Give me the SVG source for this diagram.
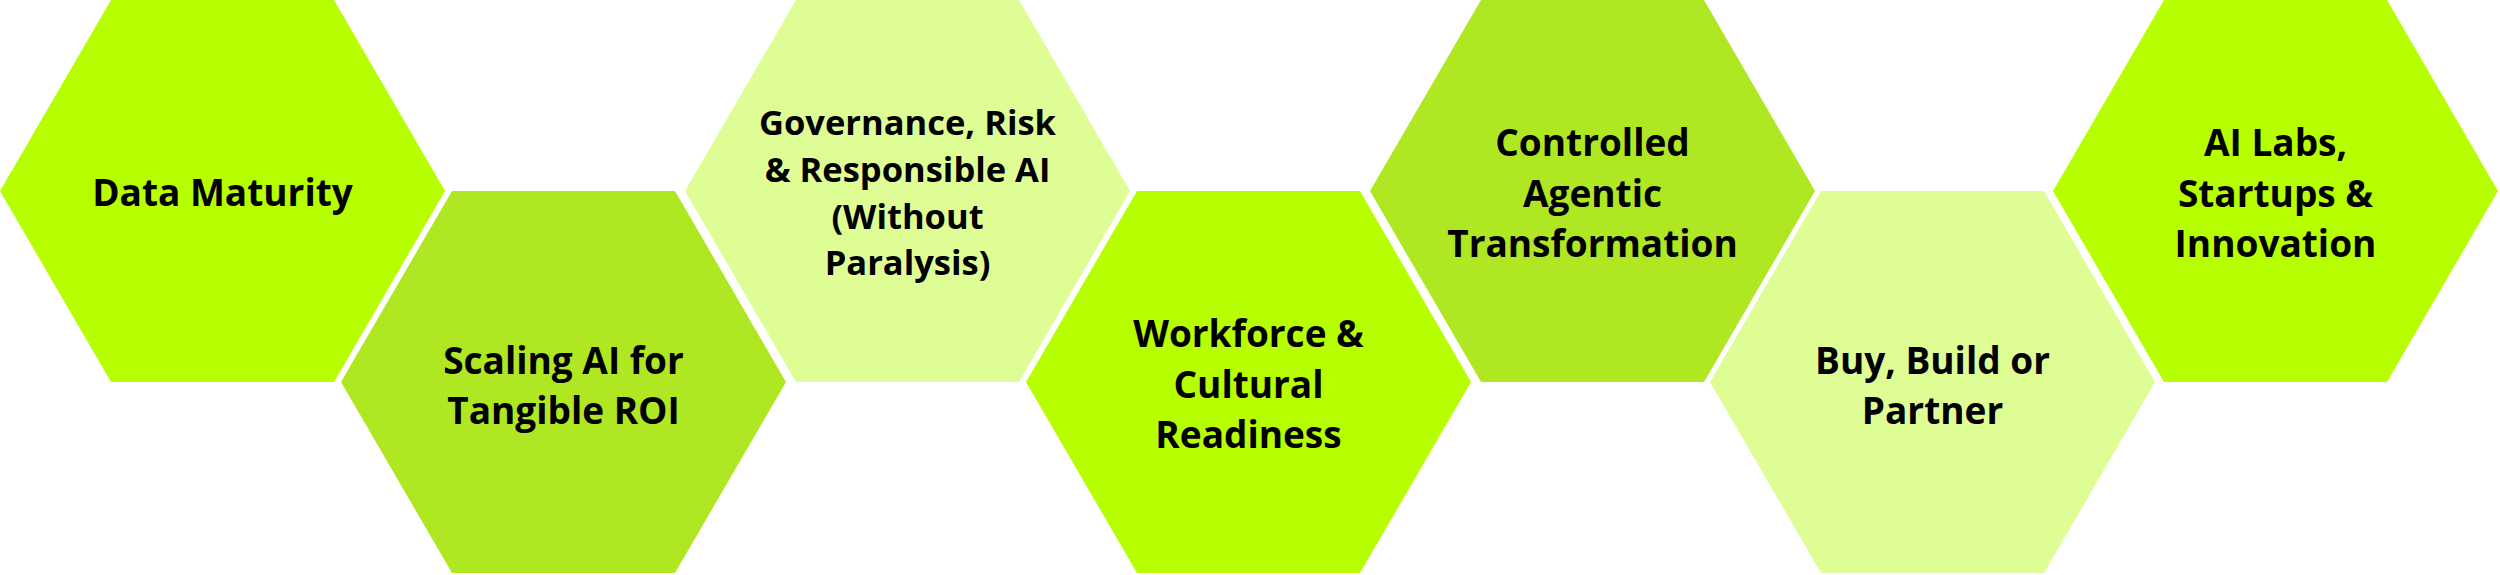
<svg xmlns="http://www.w3.org/2000/svg" xmlns:xlink="http://www.w3.org/1999/xlink" width="2500" height="575" viewBox="0 0 2500 575">
<style>
.c1{fill:#B7FF00}
.c2{fill:#AFE823}
.c3{fill:#DFFD95}
text{font-family:"Open Sans","Noto Sans","Liberation Sans",sans-serif;font-weight:700;fill:#000;text-anchor:middle;font-size:37px}
.sm{font-size:34.5px}
</style>
<defs>
<polygon id="hex" points="0,191 111,0 334,0 445,191 334,382 111,382"/>
</defs>
<rect width="2500" height="575" fill="#fff"/>
<g id="n1"><use xlink:href="#hex" href="#hex" class="c1" x="0" y="0"/>
<text x="222.5" y="206">Data Maturity</text></g>
<g id="n2"><use xlink:href="#hex" href="#hex" class="c2" x="341" y="191"/>
<text x="563.5" y="374">Scaling AI for</text><text x="563.5" y="424">Tangible ROI</text></g>
<g id="n3"><use xlink:href="#hex" href="#hex" class="c3" x="685" y="0"/>
<text class="sm" x="907.5" y="135">Governance, Risk</text><text class="sm" x="907.5" y="182">&amp; Responsible AI</text><text class="sm" x="907.5" y="228.5">(Without</text><text class="sm" x="907.5" y="275">Paralysis)</text></g>
<g id="n4"><use xlink:href="#hex" href="#hex" class="c1" x="1026" y="191"/>
<text x="1248.5" y="347">Workforce &amp;</text><text x="1248.5" y="398">Cultural</text><text x="1248.5" y="448">Readiness</text></g>
<g id="n5"><use xlink:href="#hex" href="#hex" class="c2" x="1370" y="0"/>
<text x="1592.5" y="156">Controlled</text><text x="1592.5" y="207">Agentic</text><text x="1592.5" y="257">Transformation</text></g>
<g id="n6"><use xlink:href="#hex" href="#hex" class="c3" x="1710" y="191"/>
<text x="1932.5" y="374">Buy, Build or</text><text x="1932.5" y="424">Partner</text></g>
<g id="n7"><use xlink:href="#hex" href="#hex" class="c1" x="2053" y="0"/>
<text x="2275.5" y="156">AI Labs,</text><text x="2275.5" y="207">Startups &amp;</text><text x="2275.5" y="257">Innovation</text></g>
<g id="connectors"/>
</svg>
